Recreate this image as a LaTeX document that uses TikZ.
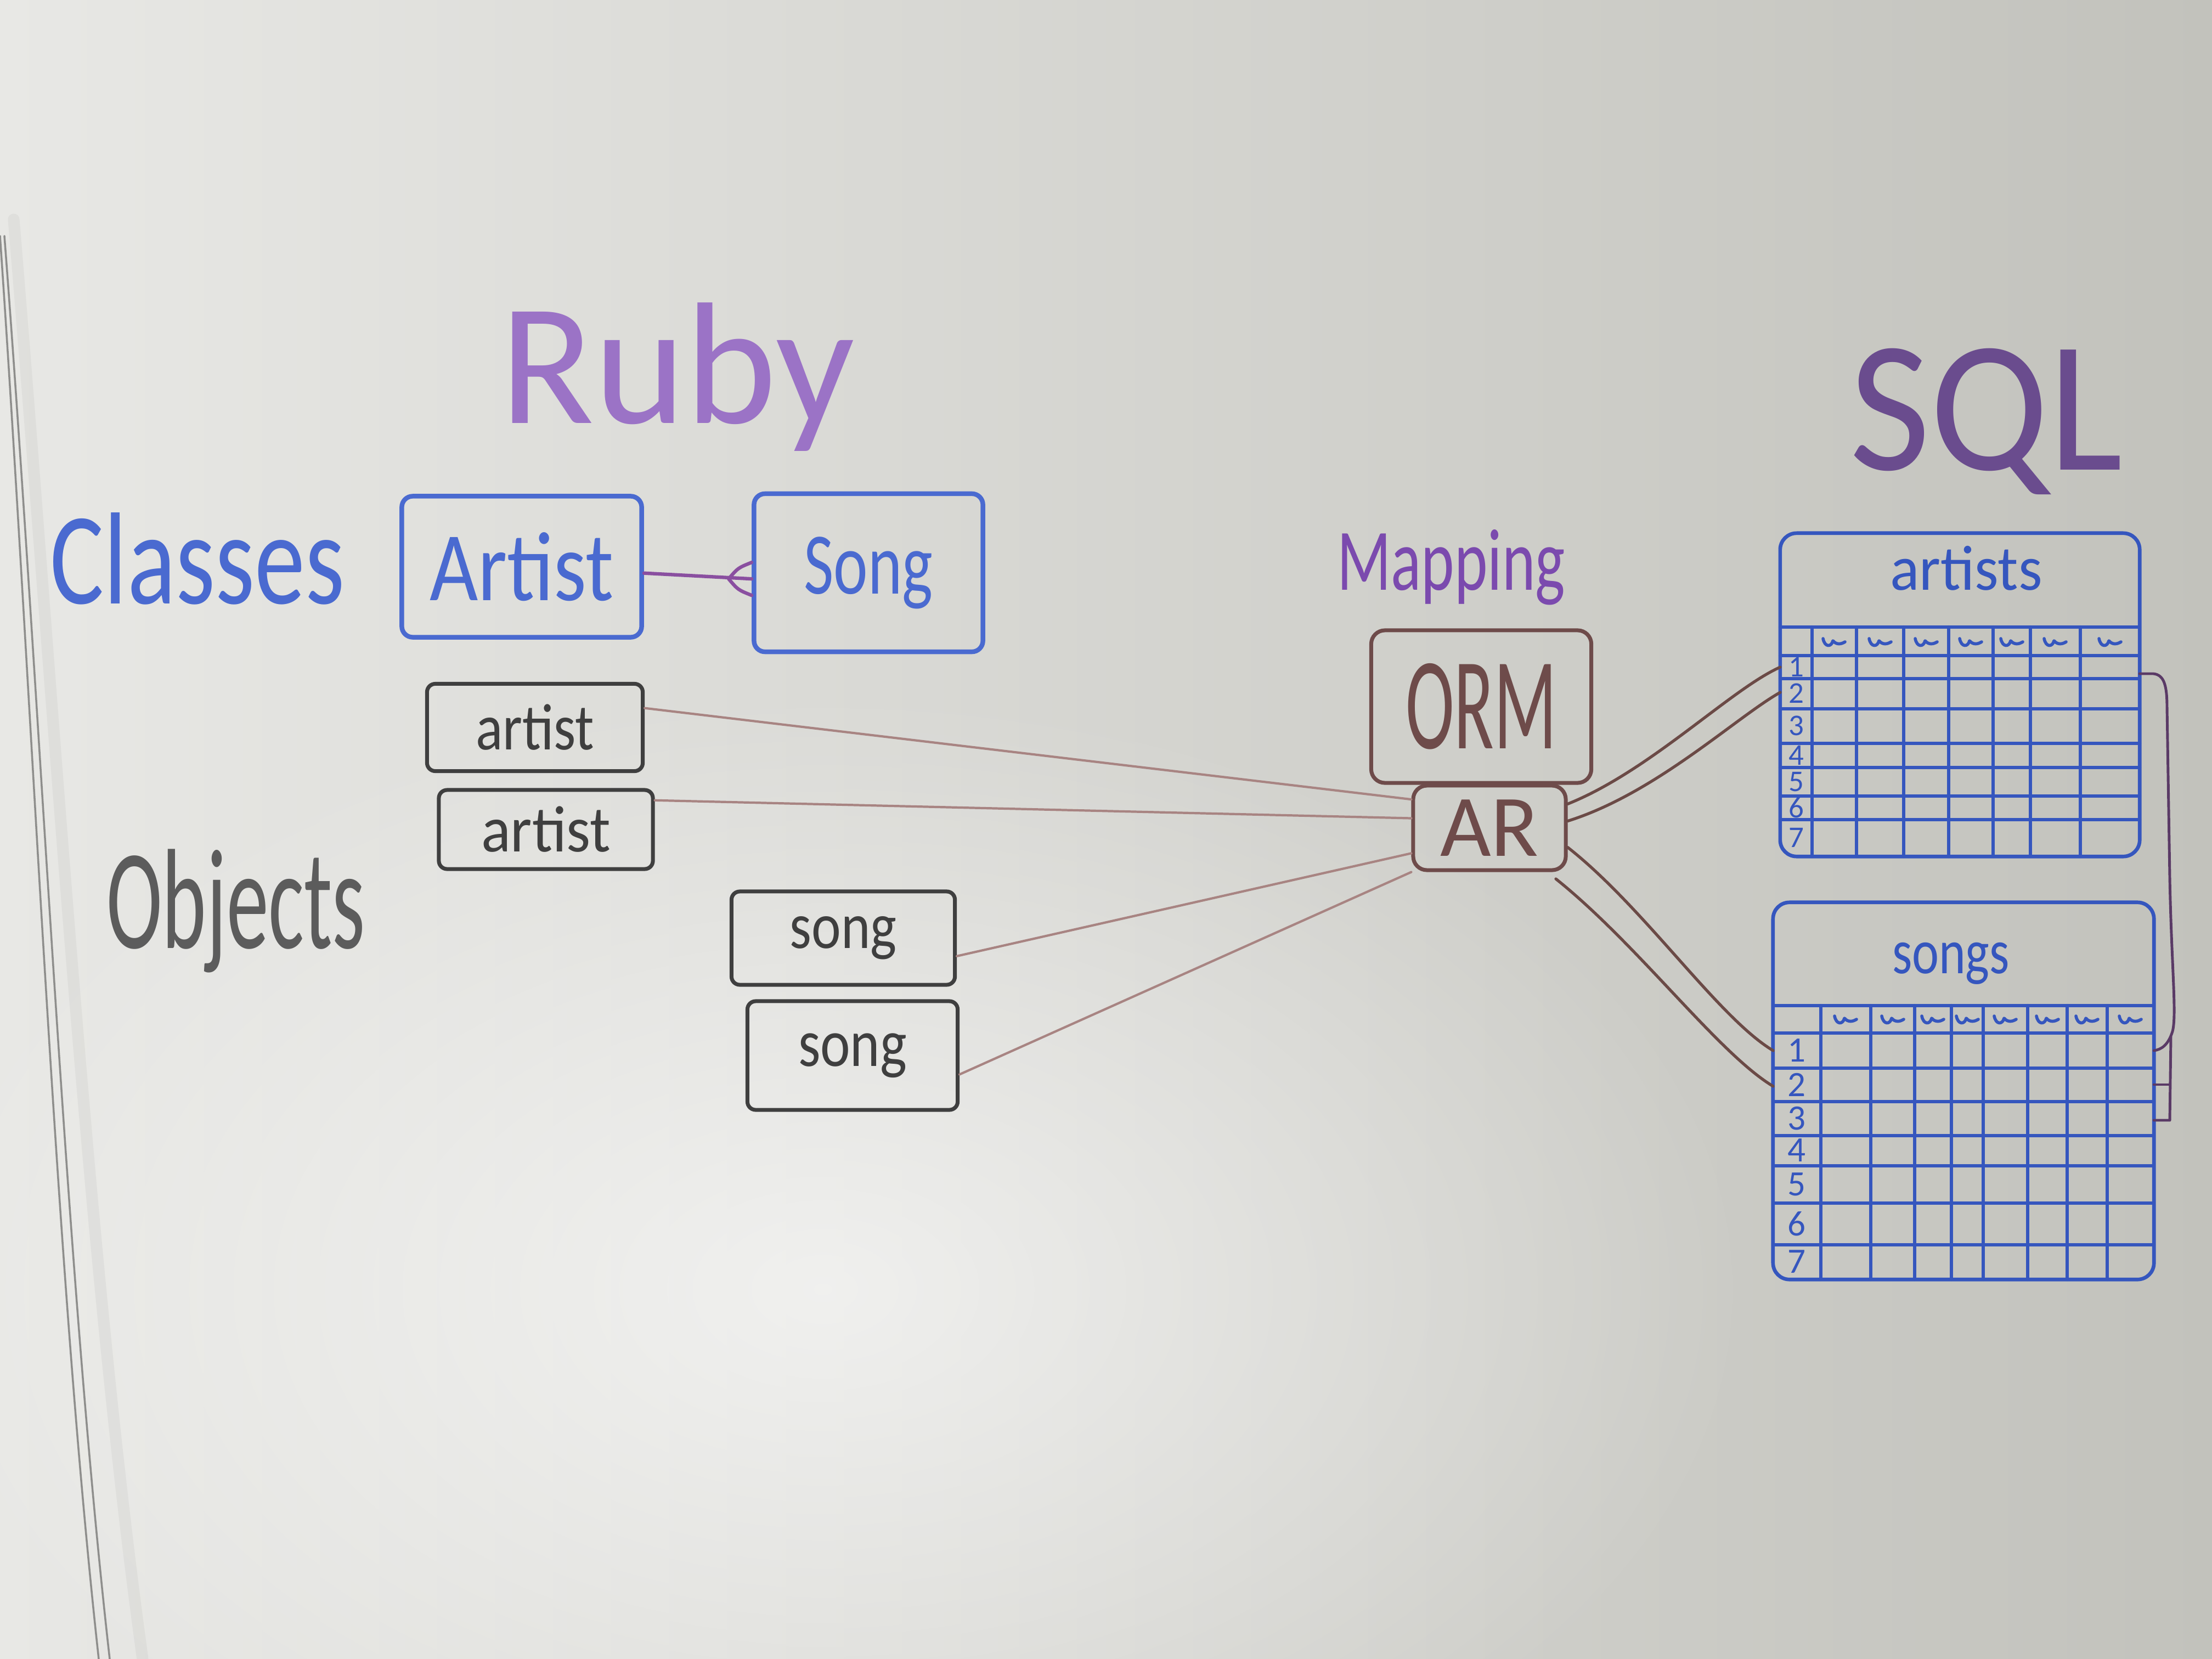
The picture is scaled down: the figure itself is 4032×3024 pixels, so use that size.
\documentclass[tikz,border=0pt]{standalone}
\usepackage{graphicx}
\usepackage{fontspec}
\setmainfont{Carlito}
\usetikzlibrary{calc,fadings}
\tikzfading[name=glow,inner color=transparent!0,outer color=transparent!100]
\definecolor{bgL}{HTML}{E8E8E5}
\definecolor{bgR}{HTML}{C2C2BC}
\definecolor{rubyc}{HTML}{9B73C6}
\definecolor{sqlc}{HTML}{6A4C8E}
\definecolor{clsblue}{HTML}{4A6AD0}
\definecolor{tblblue}{HTML}{3556BE}
\definecolor{objgrey}{HTML}{3F3F3F}
\definecolor{ormbrown}{HTML}{6E4B4A}
\definecolor{linkpink}{HTML}{A88482}
\definecolor{linkbrown}{HTML}{6B4A46}
\definecolor{relpurple}{HTML}{8A4FA0}
\definecolor{brkpurple}{HTML}{5A3A66}
\definecolor{mapc}{HTML}{7B4AAE}
\definecolor{edgec}{HTML}{8E8E8C}
\newcommand{\myfs}[1]{\fontsize{#1}{#1}\selectfont}
\begin{document}
\begin{tikzpicture}[x=0.01cm,y=-0.01cm,line cap=round,line join=round,
  bluebox/.style={draw=clsblue,line width=2.4pt,rounded corners=0.2cm,inner sep=0pt,text=clsblue},
  objbox/.style={draw=objgrey,line width=2pt,rounded corners=0.15cm,inner sep=0pt,text=objgrey},
  brownbox/.style={draw=ormbrown,line width=2pt,rounded corners=0.25cm,inner sep=0pt,text=ormbrown},
  tblnode/.style={draw=tblblue,line width=1.9pt,rounded corners=0.3cm,inner sep=0pt},
  tbl/.style={draw=tblblue,line width=1.8pt},
  objlink/.style={draw=linkpink,line width=1.2pt},
  dblink/.style={draw=linkbrown,line width=1.5pt},
  relline/.style={draw=relpurple,line width=1.8pt},
  bracket/.style={draw=brkpurple,line width=1.4pt},
  handtext/.style={inner sep=0pt,anchor=base},
  digit/.style={inner sep=0pt,text=tblblue},
  squig/.pic={\draw[tbl,line width=1.6pt] (-20,-8) .. controls (-17,8) and (-5,8) .. (-2,-4) .. controls (4,3) and (12,3) .. (20,-2);}
]
\useasboundingbox (0,0) rectangle (4032,3024);
\clip (0,0) rectangle (4032,3024);
% whiteboard
\shade[left color=bgL,right color=bgR] (0,0) rectangle (4032,3024);
\fill[white,opacity=0.6,path fading=glow] (1500,2350) ellipse [x radius=17cm,y radius=11cm];
\draw[edgec!60,line width=6pt,opacity=0.2] (25,400) .. controls (100,1300) and (160,2300) .. (260,3024);
\draw[edgec,line width=1pt] (0,430) .. controls (60,1300) and (100,2300) .. (180,3024);
\draw[edgec,line width=1pt] (8,430) .. controls (75,1300) and (118,2300) .. (200,3024);

% headings
\node[handtext,text=rubyc] (ruby) at (1235,771) {\myfs{90}Ruby};
\node[handtext,text=sqlc] (sql) at (3620,856) {\myfs{97}\scalebox{0.94}[1]{SQL}};
\node[handtext,text=clsblue] (classes) at (360,1100) {\myfs{68}\scalebox{0.77}[1]{Classes}};
\node[handtext,text=objgrey!85] (objects) at (430,1728) {\myfs{74}\scalebox{0.59}[1]{Objects}};
\node[handtext,text=mapc] (mapping) at (2645,1075) {\myfs{45.5}\scalebox{0.72}[1]{Mapping}};

% class boxes
\node[bluebox,minimum width=4.37cm,minimum height=2.57cm] (artist) at (951,1033) {\myfs{51}\scalebox{0.85}[1]{Artist}};
\node[bluebox,minimum width=4.17cm,minimum height=2.88cm] (song) at (1583,1044) {\myfs{45.5}\scalebox{0.74}[1]{Song}};
\draw[relline] (artist.-3) -- (song.183);
\coordinate (cfa) at ($(song.183)+(-42,0)$);
\draw[relline] ($(song.183)+(0,-30)$) .. controls ($(song.183)+(-25,-20)$) .. (cfa) .. controls ($(song.183)+(-25,20)$) .. ($(song.183)+(0,30)$);

% object boxes
\node[objbox,minimum width=3.93cm,minimum height=1.59cm] (a1) at (975,1326) {\myfs{34}\scalebox{0.86}[1]{artist}};
\node[objbox,minimum width=3.90cm,minimum height=1.44cm] (a2) at (995,1512) {\myfs{34}\scalebox{0.94}[1]{artist}};
\node[objbox,minimum width=4.07cm,minimum height=1.70cm] (s1) at (1537,1710) {\myfs{34}\scalebox{0.85}[1]{song}};
\node[objbox,minimum width=3.83cm,minimum height=1.98cm] (s2) at (1554,1924) {\myfs{35}\scalebox{0.84}[1]{song}};

% mapping boxes
\node[brownbox,minimum width=4.01cm,minimum height=2.78cm] (orm) at (2700,1288) {\myfs{68}\scalebox{0.56}[1]{ORM}};
\node[brownbox,minimum width=2.78cm,minimum height=1.54cm] (ar) at (2715,1509) {\myfs{45.5}AR};

% object links
\draw[objlink] (a1.10) -- (ar.160);
\draw[objlink] (a2.15) -- (ar.173);
\draw[objlink] (s1.-9) -- (ar.198);
\draw[objlink] (s2.-10) -- (ar.south west);

% artists table
\node[tblnode,minimum width=6.55cm,minimum height=5.89cm] (artT) at (3572.5,1266.5) {};
\foreach \yy in {1143,1195,1237,1292,1355,1399,1451,1494} \draw[tbl] (3245,\yy) -- (3900,\yy);
\foreach \xx in {3303,3384,3470,3552,3633,3701,3792} \draw[tbl] (\xx,1143) -- (\xx,1561);
\foreach \cx in {3343,3427,3511,3592,3667,3746,3846} \pic at (\cx,1172) {squig};
\node[handtext,text=tblblue] (artTitle) at (3584,1075) {\myfs{33}\scalebox{0.96}[1]{artists}};
\foreach \yy [count=\i] in {1216,1264,1323,1377,1425,1472,1527} \node[digit,font=\myfs{15.6}] (ad\i) at (3274,\yy) {\i};

% songs table
\node[tblnode,minimum width=6.94cm,minimum height=6.87cm] (sngT) at (3579,1988.5) {};
\foreach \yy in {1833,1883,1947,2008,2070,2125,2193,2269} \draw[tbl] (3232,\yy) -- (3926,\yy);
\foreach \xx in {3319,3410,3490,3557,3615,3696,3768,3841} \draw[tbl] (\xx,1833) -- (\xx,2332);
\foreach \cx in {3364,3450,3523,3586,3655,3732,3804,3883} \pic at (\cx,1860) {squig};
\node[handtext,text=tblblue] (sngTitle) at (3556,1774) {\myfs{33}\scalebox{0.8}[1]{songs}};
\foreach \yy [count=\i] in {1915,1977,2039,2097,2159,2231,2300} \node[digit,font=\myfs{18.5}] (sd\i) at (3275,\yy) {\i};

% table link points
\coordinate (artR1) at (3245,1216);
\coordinate (artR2) at (3245,1262);
\coordinate (sngR1) at (3232,1915);
\coordinate (sngR2) at (3232,1980);
\coordinate (artR1r) at (3900,1228);
\coordinate (sngR1r) at (3926,1915);
\coordinate (sngR2r) at (3926,1977);
\coordinate (sngR3r) at (3926,2042);
\coordinate (arLow) at (2836,1602);

% AR to tables
\draw[dblink] (ar.17) .. controls +(150,-60) and +(-90,40) .. (artR1);
\draw[dblink] (ar.5) .. controls +(160,-50) and +(-80,45) .. (artR2);
\draw[dblink] (ar.-14) .. controls +(140,110) and +(-100,-60) .. (sngR1);
\draw[dblink] (arLow) .. controls +(150,120) and +(-100,-60) .. (sngR2);

% purple bracket between tables
\draw[bracket] (artR1r) -- (3925,1228) .. controls (3945,1230) and (3950,1250) .. (3950,1290) -- (3955,1600) .. controls (3958,1760) and (3968,1850) .. (3960,1880) .. controls (3952,1905) and (3940,1913) .. (sngR1r);
\draw[bracket] (3957,1890) -- (3955,2042) -- (sngR3r);
\draw[bracket] (3955,1977) -- (sngR2r);
\end{tikzpicture}
\end{document}
